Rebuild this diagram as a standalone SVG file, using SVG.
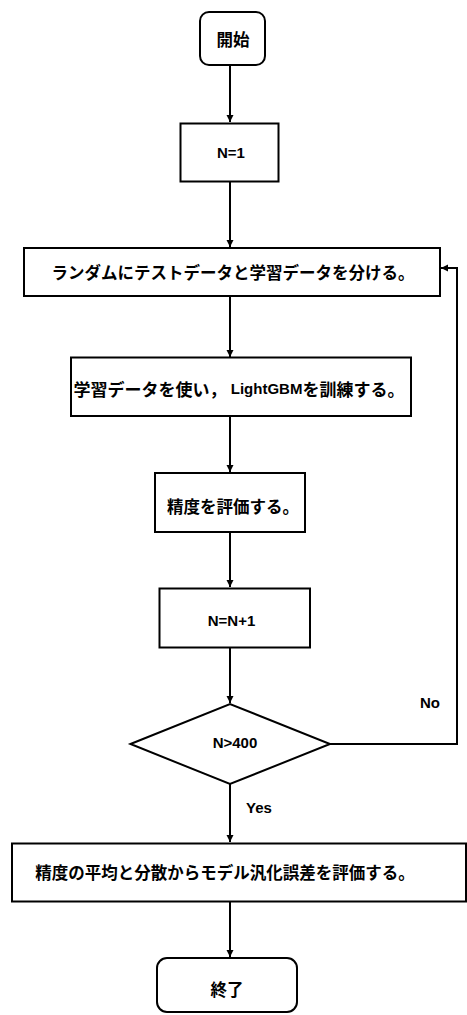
<svg xmlns="http://www.w3.org/2000/svg" width="467" height="1015" viewBox="0 0 467 1015">
<style>
.box{fill:#fff;stroke:#000;stroke-width:2}
.ln{fill:none;stroke:#000;stroke-width:2}
.jp{font-family:"Noto Sans CJK JP","Noto Sans",sans-serif;font-weight:bold;font-size:16.5px;fill:#000;text-anchor:middle;dominant-baseline:central}
.en{font-family:"Liberation Sans",Arial,sans-serif;font-weight:bold;font-size:15px;fill:#000;text-anchor:middle;dominant-baseline:central}
</style>
<defs>
<marker id="ah" markerWidth="8" markerHeight="8" refX="7" refY="4" orient="auto" markerUnits="userSpaceOnUse">
<path d="M0,0.5 L7,4 L0,7.5 Z" fill="#000"/>
</marker>
</defs>
<rect width="467" height="1015" fill="#fff"/>
<g id="connectors">
<line class="ln" x1="230" y1="65" x2="230" y2="122" marker-end="url(#ah)"/>
<line class="ln" x1="230" y1="182" x2="230" y2="247" marker-end="url(#ah)"/>
<line class="ln" x1="230" y1="296" x2="230" y2="357" marker-end="url(#ah)"/>
<line class="ln" x1="230" y1="416" x2="230" y2="472" marker-end="url(#ah)"/>
<line class="ln" x1="230" y1="532" x2="230" y2="587" marker-end="url(#ah)"/>
<line class="ln" x1="230" y1="648" x2="230" y2="703" marker-end="url(#ah)"/>
<polyline class="ln" points="330,744 457,744 457,268 441,268" marker-end="url(#ah)"/>
<line class="ln" x1="230" y1="784" x2="230" y2="842" marker-end="url(#ah)"/>
<line class="ln" x1="230" y1="902" x2="230" y2="957" marker-end="url(#ah)"/>
<text class="en" x="430" y="702">No</text>
<text class="en" x="259" y="807">Yes</text>
</g>
<g id="start">
<rect class="box" x="200" y="12" width="65" height="53" rx="9"/>
<text class="jp" x="233" y="39">開始</text>
</g>
<g id="n1">
<rect class="box" x="180.5" y="123.5" width="98" height="58"/>
<text class="en" x="231" y="152.5">N=1</text>
</g>
<g id="split">
<rect class="box" x="24" y="248" width="416" height="48"/>
<text class="jp" x="233" y="272" font-size="16.8">ランダムにテストデータと学習データを分ける。</text>
</g>
<g id="train">
<rect class="box" x="71" y="357.5" width="340" height="58.5"/>
<text class="jp" x="239" y="388" style="font-size:17px">学習データを使い，<tspan style="font-family:'Liberation Sans',Arial,sans-serif;font-size:15px"> LightGBM</tspan>を訓練する。</text>
</g>
<g id="eval">
<rect class="box" x="155" y="473" width="150" height="59"/>
<text class="jp" x="233" y="506">精度を評価する。</text>
</g>
<g id="incr">
<rect class="box" x="159.5" y="588.5" width="150.5" height="59"/>
<text class="en" x="231.5" y="620">N=N+1</text>
</g>
<g id="cond">
<polygon class="box" points="130.5,744 230,704 330,744 230,784"/>
<text class="en" x="235" y="742">N&gt;400</text>
</g>
<g id="final">
<rect class="box" x="12" y="843.5" width="454" height="58"/>
<text class="jp" x="225" y="872">精度の平均と分散からモデル汎化誤差を評価する。</text>
</g>
<g id="end">
<rect class="box" x="157" y="958" width="140" height="54" rx="10"/>
<text class="jp" x="227" y="989">終了</text>
</g>
</svg>
